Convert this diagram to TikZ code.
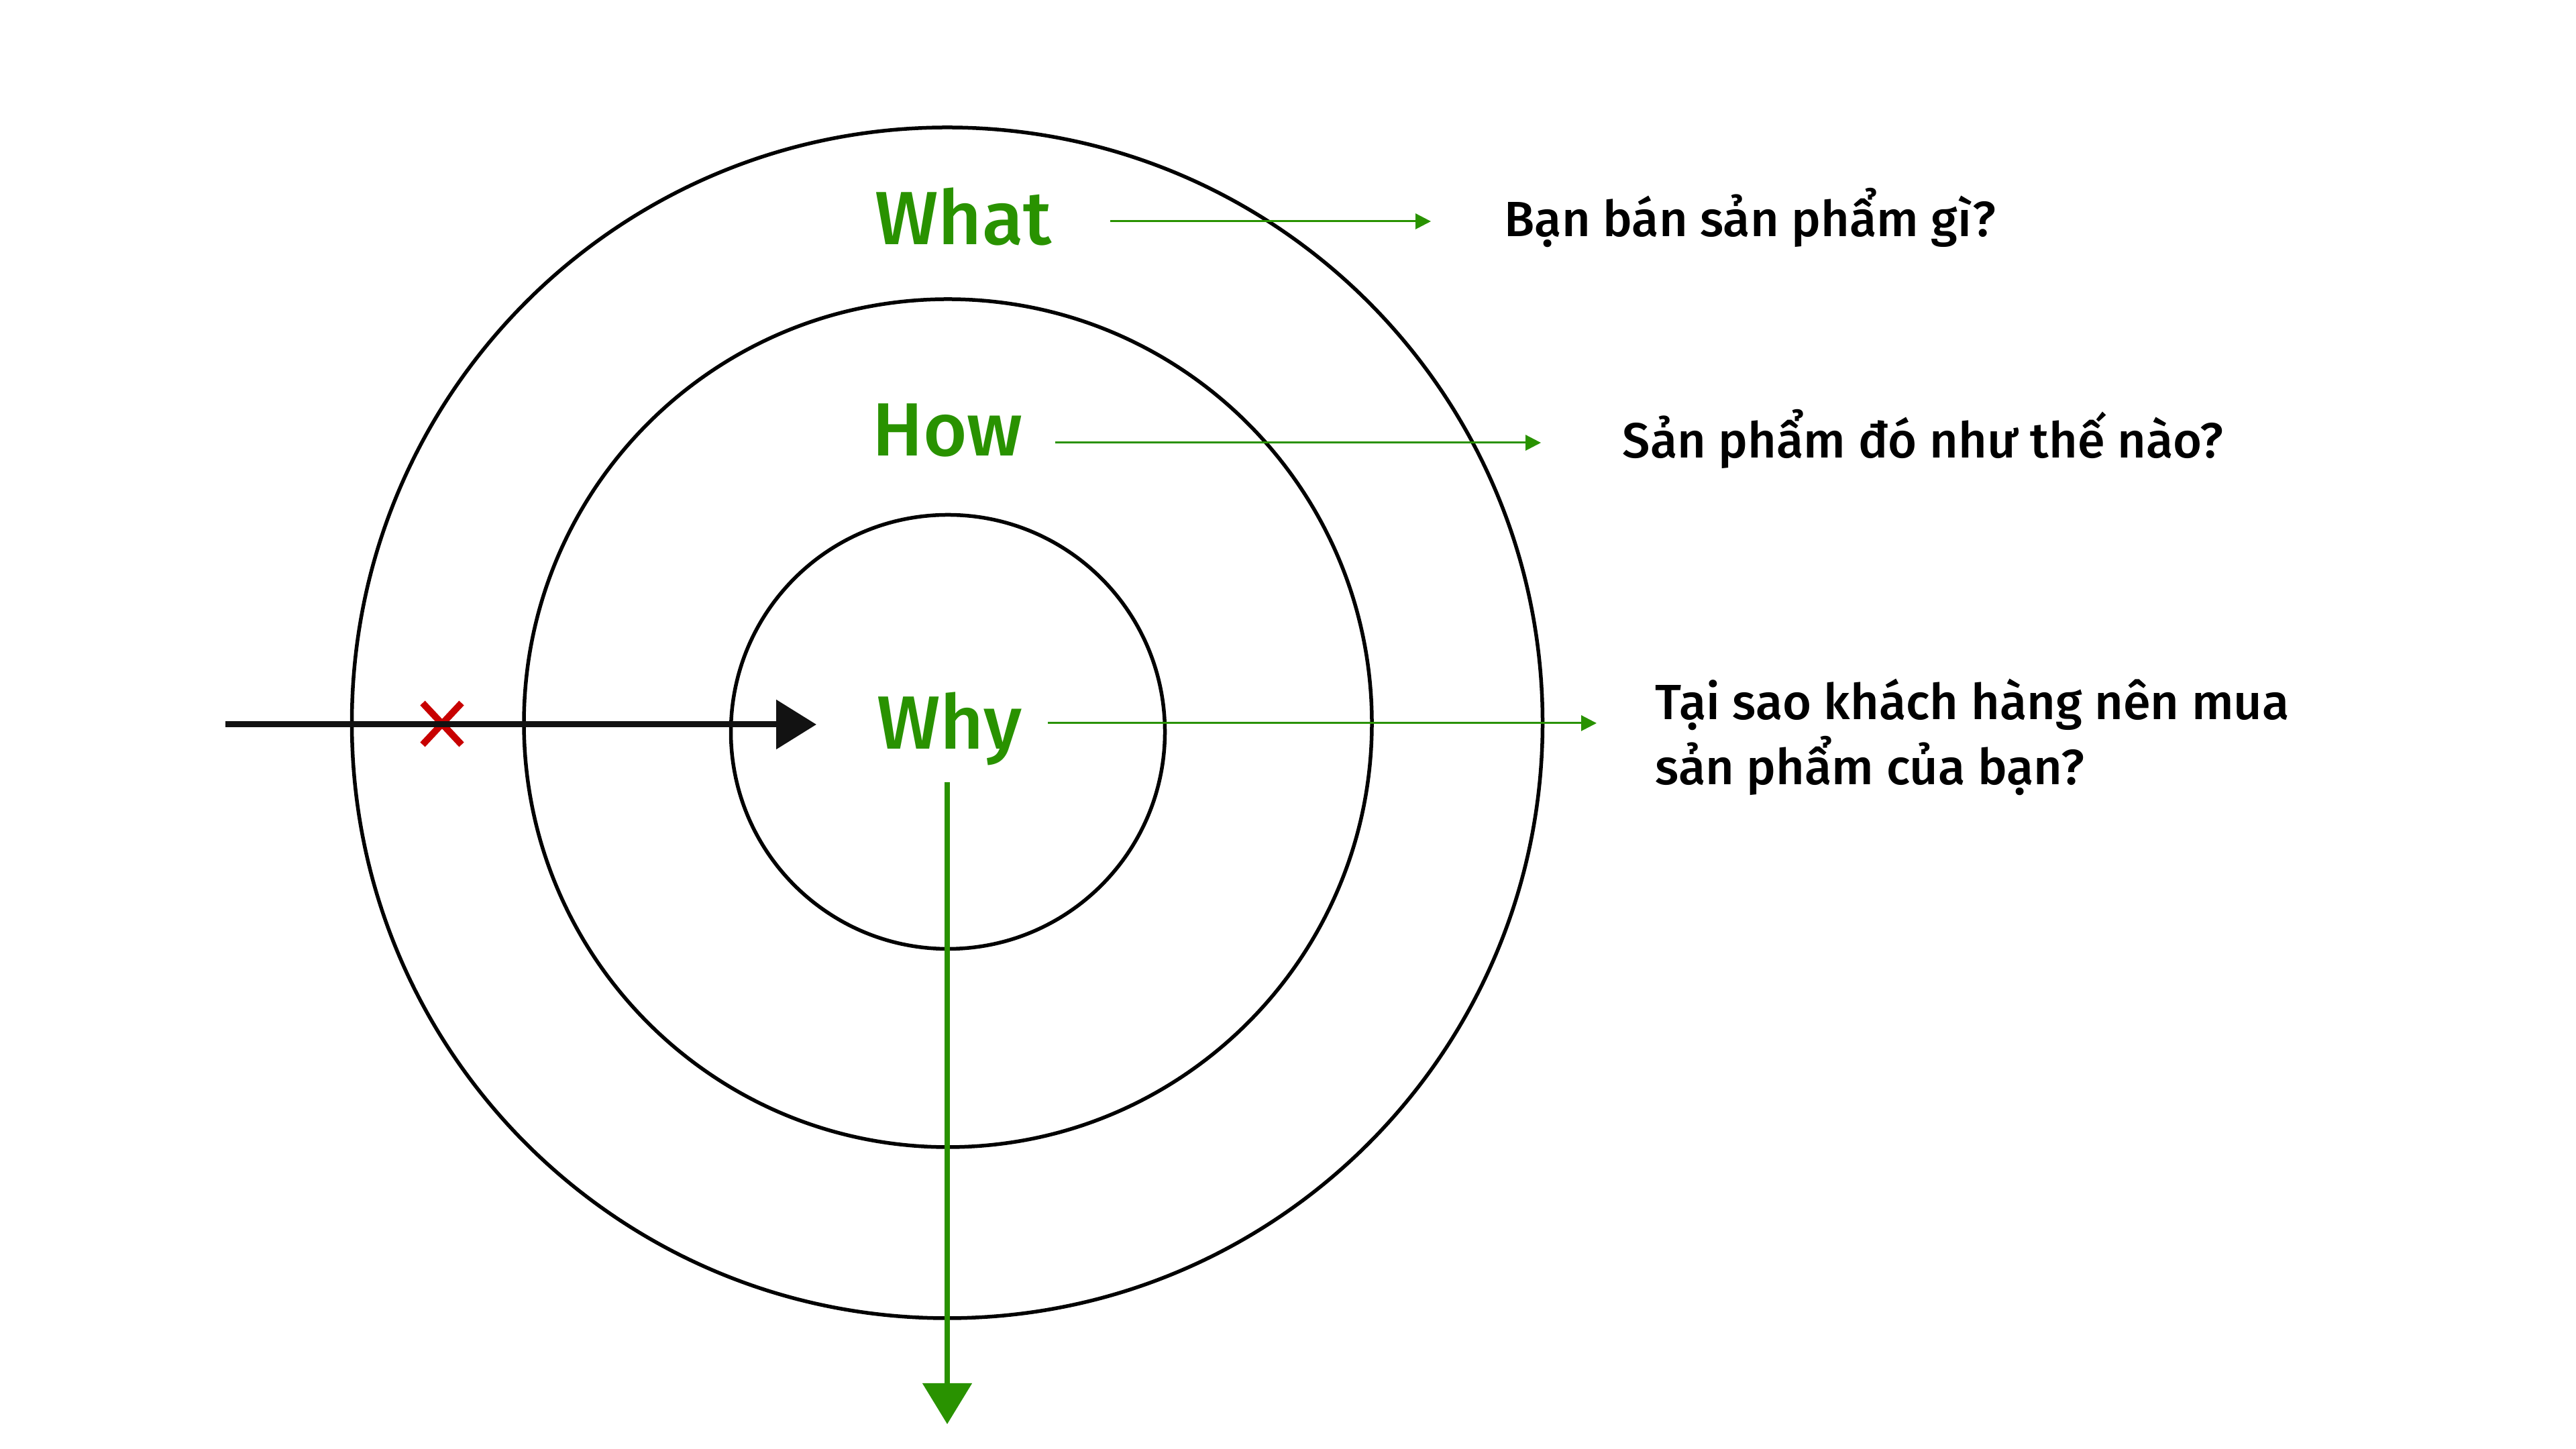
\documentclass[tikz,border=0pt]{standalone}
\usepackage{fontspec}
\setmainfont{Fira Sans}[UprightFont=* Medium]
\usetikzlibrary{arrows.meta, positioning, shapes.misc}
\definecolor{leafgreen}{RGB}{41,146,0}
\definecolor{crossred}{RGB}{200,0,0}
\tikzset{
  ring/.style={circle, draw=black, line width=0.55mm, inner sep=0pt},
  layer/.style={font=\fontsize{32}{38}\selectfont, text=leafgreen, inner sep=0pt, anchor=base west, text height=7mm, text depth=0pt},
  answer/.style={font=\fontsize{21}{27.6}\selectfont, inner sep=0pt, anchor=base west, align=left},
  stopmark/.style={cross out, draw=crossred, line width=1mm, minimum width=4.8mm, minimum height=5.2mm, inner sep=0pt},
  pointer/.style={-{Triangle[length=2.3mm, width=2.3mm]}, draw=leafgreen, line width=0.3mm},
  push/.style={-{Triangle[length=6mm, width=7.2mm]}, draw=black!93, line width=0.9mm},
  pull/.style={-{Triangle[length=6.1mm, width=7.2mm]}, draw=leafgreen, line width=0.85mm}
}
\begin{document}
\begin{tikzpicture}
\fill[white] (0,0) rectangle (38.4,21.6);
\useasboundingbox (0,0) rectangle (38.4,21.6);

% Rings
\node (outer) [ring, minimum size=17.75cm] at (14.12,10.825) {};
\node (middle) [ring, minimum size=12.64cm] at (14.13,10.82) {};
\node (inner) [ring, minimum size=6.47cm] at (14.13,10.69) {};

% Labels
\node (what) [layer] at (13.04,17.95) {What};
\node (how) [layer] at (13.00,14.80) {How};
\node (why) [layer] at (13.07,10.43) {Why};

\node (ansWhat) [answer] at (22.42,18.07) {Bạn bán sản phẩm gì?};
\node (ansHow) [answer] at (24.18,14.77) {Sản phẩm đó như thế nào?};
\node (ansWhy) [answer] at (24.67,9.90) {Tại sao khách hàng nên mua\\sản phẩm của bạn?};

\coordinate (entry) at (3.36,10.80);
\coordinate (exit) at (14.12,0.37);
\node (block) [stopmark] at (6.59,10.81) {};

% Arrows
\draw [pointer, shorten <=35.1mm, shorten >=10.9mm] (what.west) -- (what.west -| ansWhat.west);
\draw [pointer, shorten <=27.3mm, shorten >=12.1mm] ([yshift=-1.5mm]how.west) -- ([yshift=-1.5mm]how.west -| ansHow.west);
\draw [pointer, shorten <=25.5mm, shorten >=8.7mm] ([yshift=0.4mm]why.west) -- ([yshift=0.4mm]why.west -| ansWhy.west);
\draw [push, shorten >=9mm] (entry) -- (entry -| why.west);
\draw [pull, shorten <=4.8mm] (why.south -| exit) -- (exit);
\end{tikzpicture}
\end{document}
